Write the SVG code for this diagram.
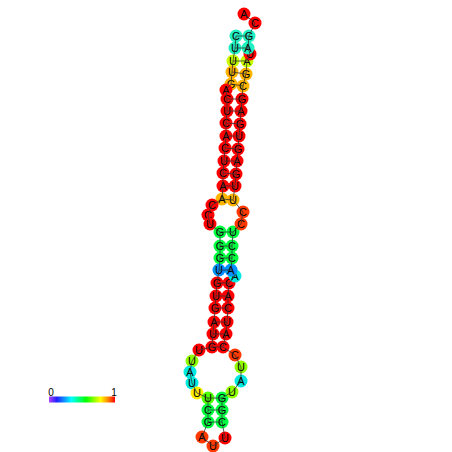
<svg xmlns="http://www.w3.org/2000/svg" width="452" height="452" viewBox="0 0 452 452">
<defs>
<linearGradient id="scale" x1="0" y1="0" x2="1" y2="0">
<stop offset="0" stop-color="#b040ff"/>
<stop offset="0.12" stop-color="#2020ff"/>
<stop offset="0.34" stop-color="#00ffff"/>
<stop offset="0.56" stop-color="#00ff00"/>
<stop offset="0.78" stop-color="#ffff00"/>
<stop offset="0.9" stop-color="#ff8000"/>
<stop offset="1" stop-color="#ff0000"/>
</linearGradient>
<style>
circle{stroke:none}
.r{fill:#ff0000}.ro{fill:#ff3a00}.o{fill:#ffb400}.y{fill:#ffee00}.yg{fill:#c8ff00}
.l{fill:#90ff00}.lg{fill:#50ff00}.g{fill:#00ff40}.c{fill:#20f0c0}.cy{fill:#00e8e0}.b{fill:#0090ff}
text{font-family:"Liberation Sans",Arial,sans-serif;font-size:11px;fill:#000;text-anchor:middle}
.bb,.bp{stroke:#333;stroke-width:0.8;fill:none}
.lab{font-size:10px}
</style>
</defs>
<rect width="452" height="452" fill="#fff"/>
<g id="nodes">
<g id="n1"><circle class="c" cx="236" cy="36" r="6.5"/><text x="236" y="40">C</text></g>
<g id="n2"><circle class="c" cx="235" cy="48" r="6.5"/><text x="235" y="52">U</text></g>
<g id="n3"><circle class="yg" cx="233" cy="61" r="6.5"/><text x="233" y="65">U</text></g>
<g id="n4"><circle class="o" cx="232" cy="72" r="6.5"/><text x="232" y="76">U</text></g>
<g id="n5"><circle class="o" cx="231" cy="84" r="6.5"/><text x="231" y="88">G</text></g>
<g id="n6"><circle class="r" cx="226" cy="90" r="6.5"/><text x="226" y="94">A</text></g>
<g id="n7"><circle class="r" cx="227" cy="99" r="6.5"/><text x="227" y="103">C</text></g>
<g id="n8"><circle class="r" cx="227" cy="111" r="6.5"/><text x="227" y="115">U</text></g>
<g id="n9"><circle class="r" cx="226" cy="123" r="6.5"/><text x="226" y="127">C</text></g>
<g id="n10"><circle class="r" cx="226" cy="136" r="6.5"/><text x="226" y="140">A</text></g>
<g id="n11"><circle class="r" cx="225" cy="148" r="6.5"/><text x="225" y="152">C</text></g>
<g id="n12"><circle class="r" cx="224" cy="161" r="6.5"/><text x="224" y="165">U</text></g>
<g id="n13"><circle class="r" cx="223" cy="173" r="6.5"/><text x="223" y="177">C</text></g>
<g id="n14"><circle class="r" cx="223" cy="186" r="6.5"/><text x="223" y="190">A</text></g>
<g id="n15"><circle class="o" cx="222" cy="199" r="6.5"/><text x="222" y="203">A</text></g>
<g id="n16"><circle class="r" cx="212" cy="205" r="6.5"/><text x="212" y="209">C</text></g>
<g id="n17"><circle class="r" cx="208" cy="215" r="6.5"/><text x="208" y="219">C</text></g>
<g id="n18"><circle class="r" cx="210" cy="224" r="6.5"/><text x="210" y="228">U</text></g>
<g id="n19"><circle class="g" cx="220" cy="232" r="6.5"/><text x="220" y="236">G</text></g>
<g id="n20"><circle class="g" cx="220" cy="246" r="6.5"/><text x="220" y="250">G</text></g>
<g id="n21"><circle class="g" cx="220" cy="258" r="6.5"/><text x="220" y="262">G</text></g>
<g id="n22"><circle class="b" cx="219" cy="270" r="6.5"/><text x="219" y="274">U</text></g>
<g id="n23"><circle class="r" cx="217" cy="283" r="6.5"/><text x="217" y="287">G</text></g>
<g id="n24"><circle class="r" cx="216" cy="296" r="6.5"/><text x="216" y="300">U</text></g>
<g id="n25"><circle class="r" cx="215" cy="308" r="6.5"/><text x="215" y="312">G</text></g>
<g id="n26"><circle class="r" cx="214" cy="322" r="6.5"/><text x="214" y="326">A</text></g>
<g id="n27"><circle class="r" cx="213" cy="334" r="6.5"/><text x="213" y="338">U</text></g>
<g id="n28"><circle class="r" cx="212" cy="347" r="6.5"/><text x="212" y="351">G</text></g>
<g id="n29"><circle class="r" cx="199" cy="350" r="6.5"/><text x="199" y="354">U</text></g>
<g id="n30"><circle class="l" cx="192" cy="361" r="6.5"/><text x="192" y="365">U</text></g>
<g id="n31"><circle class="cy" cx="190" cy="372" r="6.5"/><text x="190" y="376">A</text></g>
<g id="n32"><circle class="cy" cx="192" cy="383" r="6.5"/><text x="192" y="387">U</text></g>
<g id="n33"><circle class="y" cx="197" cy="393" r="6.5"/><text x="197" y="397">U</text></g>
<g id="n34"><circle class="lg" cx="208" cy="398" r="6.5"/><text x="208" y="402">U</text></g>
<g id="n35"><circle class="g" cx="208" cy="410" r="6.5"/><text x="208" y="414">C</text></g>
<g id="n36"><circle class="g" cx="208" cy="422" r="6.5"/><text x="208" y="426">G</text></g>
<g id="n37"><circle class="ro" cx="202" cy="437" r="6.5"/><text x="202" y="441">A</text></g>
<g id="n38"><circle class="ro" cx="213" cy="446" r="6.5"/><text x="213" y="450">U</text></g>
<g id="n39"><circle class="r" cx="225" cy="438" r="6.5"/><text x="225" y="442">U</text></g>
<g id="n40"><circle class="g" cx="222" cy="422" r="6.5"/><text x="222" y="426">C</text></g>
<g id="n41"><circle class="g" cx="222" cy="410" r="6.5"/><text x="222" y="414">G</text></g>
<g id="n42"><circle class="g" cx="222" cy="398" r="6.5"/><text x="222" y="402">G</text></g>
<g id="n43"><circle class="l" cx="232" cy="392" r="6.5"/><text x="232" y="396">U</text></g>
<g id="n44"><circle class="cy" cx="241" cy="381" r="6.5"/><text x="241" y="385">A</text></g>
<g id="n45"><circle class="l" cx="241" cy="367" r="6.5"/><text x="241" y="371">U</text></g>
<g id="n46"><circle class="ro" cx="235" cy="355" r="6.5"/><text x="235" y="359">C</text></g>
<g id="n47"><circle class="r" cx="223" cy="347" r="6.5"/><text x="223" y="351">C</text></g>
<g id="n48"><circle class="r" cx="226" cy="334" r="6.5"/><text x="226" y="338">A</text></g>
<g id="n49"><circle class="r" cx="227" cy="322" r="6.5"/><text x="227" y="326">U</text></g>
<g id="n50"><circle class="r" cx="228" cy="308" r="6.5"/><text x="228" y="312">C</text></g>
<g id="n51"><circle class="r" cx="228" cy="296" r="6.5"/><text x="228" y="300">A</text></g>
<g id="n52"><circle class="r" cx="229" cy="283" r="6.5"/><text x="229" y="287">C</text></g>
<g id="n53"><circle class="cy" cx="235" cy="276" r="6.5"/><text x="235" y="280">A</text></g>
<g id="n54"><circle class="b" cx="231" cy="270" r="6.5"/><text x="231" y="274">A</text></g>
<g id="n55"><circle class="g" cx="232" cy="258" r="6.5"/><text x="232" y="262">C</text></g>
<g id="n56"><circle class="g" cx="232" cy="246" r="6.5"/><text x="232" y="250">C</text></g>
<g id="n57"><circle class="g" cx="233" cy="232" r="6.5"/><text x="233" y="236">U</text></g>
<g id="n58"><circle class="ro" cx="241" cy="224" r="6.5"/><text x="241" y="228">C</text></g>
<g id="n59"><circle class="ro" cx="243" cy="212" r="6.5"/><text x="243" y="216">C</text></g>
<g id="n60"><circle class="o" cx="233" cy="200" r="6.5"/><text x="233" y="204">U</text></g>
<g id="n61"><circle class="r" cx="235" cy="186" r="6.5"/><text x="235" y="190">U</text></g>
<g id="n62"><circle class="r" cx="236" cy="174" r="6.5"/><text x="236" y="178">G</text></g>
<g id="n63"><circle class="r" cx="237" cy="161" r="6.5"/><text x="237" y="165">A</text></g>
<g id="n64"><circle class="r" cx="238" cy="149" r="6.5"/><text x="238" y="153">G</text></g>
<g id="n65"><circle class="r" cx="239" cy="136" r="6.5"/><text x="239" y="140">U</text></g>
<g id="n66"><circle class="r" cx="240" cy="124" r="6.5"/><text x="240" y="128">G</text></g>
<g id="n67"><circle class="r" cx="241" cy="111" r="6.5"/><text x="241" y="115">A</text></g>
<g id="n68"><circle class="r" cx="242" cy="99" r="6.5"/><text x="242" y="103">G</text></g>
<g id="n69"><circle class="o" cx="243" cy="86" r="6.5"/><text x="243" y="90">C</text></g>
<g id="n70"><circle class="o" cx="246" cy="74" r="6.5"/><text x="246" y="78">G</text></g>
<g id="n71"><circle class="yg" cx="247" cy="61" r="6.5"/><text x="247" y="65">A</text></g>
<g id="n72"><circle class="r" cx="250" cy="54" r="6.5"/><text x="250" y="58">U</text></g>
<g id="n73"><circle class="c" cx="248" cy="48" r="6.5"/><text x="248" y="52">A</text></g>
<g id="n74"><circle class="c" cx="249" cy="36" r="6.5"/><text x="249" y="40">G</text></g>
<g id="n75"><circle class="r" cx="255" cy="23" r="6.5"/><text x="255" y="27">C</text></g>
<g id="n76"><circle class="r" cx="244" cy="14" r="6.5"/><text x="244" y="18">A</text></g>
</g>
<g id="connectors">
<polyline class="bb" points="236,36 235,48 233,61 232,72 231,84 226,90 227,99 227,111 226,123 226,136 225,148 224,161 223,173 223,186 222,199 212,205 208,215 210,224 220,232 220,246 220,258 219,270 217,283 216,296 215,308 214,322 213,334 212,347 199,350 192,361 190,372 192,383 197,393 208,398 208,410 208,422 202,437 213,446 225,438 222,422 222,410 222,398 232,392 241,381 241,367 235,355 223,347 226,334 227,322 228,308 228,296 229,283 235,276 231,270 232,258 232,246 233,232 241,224 243,212 233,200 235,186 236,174 237,161 238,149 239,136 240,124 241,111 242,99 243,86 246,74 247,61 250,54 248,48 249,36 255,23 244,14"/>
<path class="bp" d="M236,36H249M235,48L248,48M233,61L247,61M232,72L246,74M231,84L243,86M227,99L242,99M227,111L241,111M226,123L240,124M226,136L239,136M225,148L238,149M224,161L237,161M223,173L236,174M223,186L235,186M222,199L233,200M220,232L233,232M220,246L232,246M220,258L232,258M219,270L231,270M217,283L229,283M216,296L228,296M215,308L228,308M214,322L227,322M213,334L226,334M212,347L223,347M208,398L222,398M208,410L222,410M208,422L222,422"/>
</g>
<g id="legend">
<rect x="49" y="396.5" width="66" height="6" fill="url(#scale)"/>
<text class="lab" x="51" y="396">0</text>
<text class="lab" x="114" y="396">1</text>
</g>
</svg>
